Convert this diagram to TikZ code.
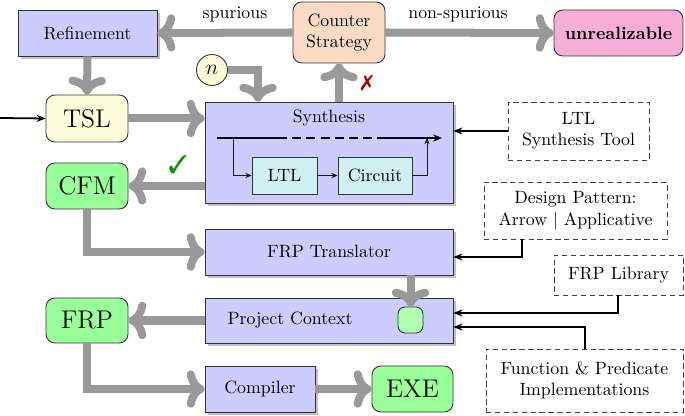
\documentclass[tikz,border=0pt]{standalone}
\usepackage{pifont}
\usetikzlibrary{arrows.meta,shadows,calc}
\newcommand\pxu{0.5618pt}
\definecolor{csfill}{RGB}{252,219,197}
\definecolor{unrfill}{RGB}{247,174,214}
\definecolor{cyfill}{RGB}{207,240,238}
\begin{document}
\begin{tikzpicture}[x=0.5618pt,y=-0.5618pt,
  base/.style={draw=black!80, line width=0.5pt, inner sep=0pt, align=center},
  blk/.style={base, fill=blue!20, drop shadow={shadow xshift=1.6pt, shadow yshift=-1.6pt, opacity=.6, fill=black!40}},
  rnd/.style={base, rounded corners=5pt},
  dbox/.style={draw=black!75, line width=0.5pt, dash pattern=on 3pt off 2pt, inner sep=0pt, align=center},
  garrow/.style={draw=black!40, line width=4.5pt, -{Computer Modern Rightarrow[length=10pt,width=21pt]}},
  barrow/.style={draw=black, line width=1pt, -{Stealth[length=5pt,width=4pt]}},
  sarrow/.style={draw=black!90, line width=0.5pt, -{Stealth[length=3.5pt,width=3pt]}}
]
\useasboundingbox (0,0) rectangle (685,416);

% nodes
\node[blk, minimum width=139*\pxu, minimum height=46*\pxu] (ref) at (87.5,33) {Refinement};
\node[rnd, fill=csfill, minimum width=92*\pxu, minimum height=61*\pxu] (cs) at (339,32.5) {Counter\\Strategy};
\node[rnd, fill=unrfill, minimum width=129*\pxu, minimum height=46*\pxu] (unr) at (618.5,33) {\textbf{unrealizable}};
\node[circle, base, fill=yellow!15, minimum size=31*\pxu] (n) at (212,70) {\large$n$};
\node[rnd, fill=yellow!15, minimum width=82*\pxu, minimum height=47*\pxu] (tsl) at (87,118.5) {\Large TSL};
\node[blk, minimum width=248*\pxu, minimum height=101*\pxu] (syn) at (329,152.5) {};
\node (synl) at (329,118) {Synthesis};
\node[base, fill=cyfill, minimum width=65*\pxu, minimum height=37*\pxu] (ltl) at (284.5,175.5) {LTL};
\node[base, fill=cyfill, minimum width=74*\pxu, minimum height=37*\pxu] (cir) at (375,175.5) {Circuit};
\node[dbox, minimum width=141*\pxu, minimum height=58*\pxu] (lst) at (578.5,131) {LTL\\Synthesis Tool};
\node[rnd, fill=green!40, minimum width=82*\pxu, minimum height=46*\pxu] (cfm) at (87,186) {\Large CFM};
\node[blk, minimum width=248*\pxu, minimum height=46*\pxu] (frpt) at (329,252) {FRP Translator};
\node[dbox, minimum width=183*\pxu, minimum height=57*\pxu] (dp) at (575.5,210.5) {Design Pattern:\\Arrow $|$ Applicative};
\node[blk, minimum width=248*\pxu, minimum height=45*\pxu] (pc) at (329,320.5) {};
\node (pcl) at (290,320) {Project Context};
\node[base, fill=green!30, rounded corners=4pt, minimum width=25*\pxu, minimum height=26*\pxu] (sq) at (410.5,320) {};
\node[dbox, minimum width=129*\pxu, minimum height=40*\pxu] (lib) at (618.5,275) {FRP Library};
\node[dbox, minimum width=197*\pxu, minimum height=63*\pxu] (fpi) at (584.5,380.5) {Function \& Predicate\\Implementations};
\node[rnd, fill=green!40, minimum width=82*\pxu, minimum height=45*\pxu] (frp) at (87,320.5) {\Large FRP};
\node[blk, minimum width=110*\pxu, minimum height=46*\pxu] (comp) at (260,389) {Compiler};
\node[rnd, fill=green!40, minimum width=81*\pxu, minimum height=46*\pxu] (exe) at (412.5,389) {\Large EXE};

% labels
\node (lsp) at (235,14) {spurious};
\node (lnsp) at (458,14) {non-spurious};
\node[text=green!60!black] (chk) at (178,165) {\Large\ding{51}};
\node[text=red!65!black] (crs) at (367,83) {\large\ding{55}};

% inner synthesis lines
\coordinate (l0) at (217,138);
\coordinate (l1) at (278,138);
\coordinate (l2) at (377,138);
\coordinate (l3) at (442,138);
\coordinate (b0) at (233,138);
\coordinate (b1) at (427,138);
\draw[line width=0.8pt] (l0) -- (l1);
\draw[line width=0.8pt, dash pattern=on 5pt off 3pt] (l1) -- (l2);
\draw[line width=0.8pt, -{Stealth[length=5pt,width=4pt]}] (l2) -- (l3);
\draw[sarrow] (b0) |- (ltl.west);
\draw[sarrow] (ltl.east) -- (cir.west);
\draw[sarrow] (cir.east) -| (b1);

% gray arrows
\coordinate (nd) at (258,0);
\draw[garrow] (cs.west) -- (ref.east);
\draw[garrow] (cs.east) -- (unr.west);
\draw[garrow] (ref.south) -- (tsl.north);
\draw[garrow] (tsl.east) -- (tsl.east -| syn.west);
\draw[garrow] (n.east) -| (nd |- syn.north);
\draw[garrow] (syn.north -| cs.south) -- (cs.south);
\draw[garrow] (syn.west |- cfm.east) -- (cfm.east);
\draw[garrow] (cfm.south) |- (frpt.west);
\draw[garrow] (frpt.south -| sq.north) -- (sq.north);
\draw[garrow] (pc.west |- frp.east) -- (frp.east);
\draw[garrow] (frp.south) |- (comp.west);
\draw[garrow] (comp.east) -- (exe.west);

% black arrows
\coordinate (in) at (0,118);
\coordinate (dpo) at (522,0);
\coordinate (libo) at (618,0);
\coordinate (fpio) at (585,0);
\draw[barrow] (in) -- (tsl.west);
\draw[barrow] (lst.west) -- (syn.east |- lst.west);
\draw[barrow] (dpo |- dp.south) |- (frpt.east |- 0,257);
\draw[barrow] (libo |- lib.south) |- (pc.east |- 0,313);
\draw[barrow] (fpio |- fpi.north) |- (pc.east |- 0,327);
\end{tikzpicture}
\end{document}
